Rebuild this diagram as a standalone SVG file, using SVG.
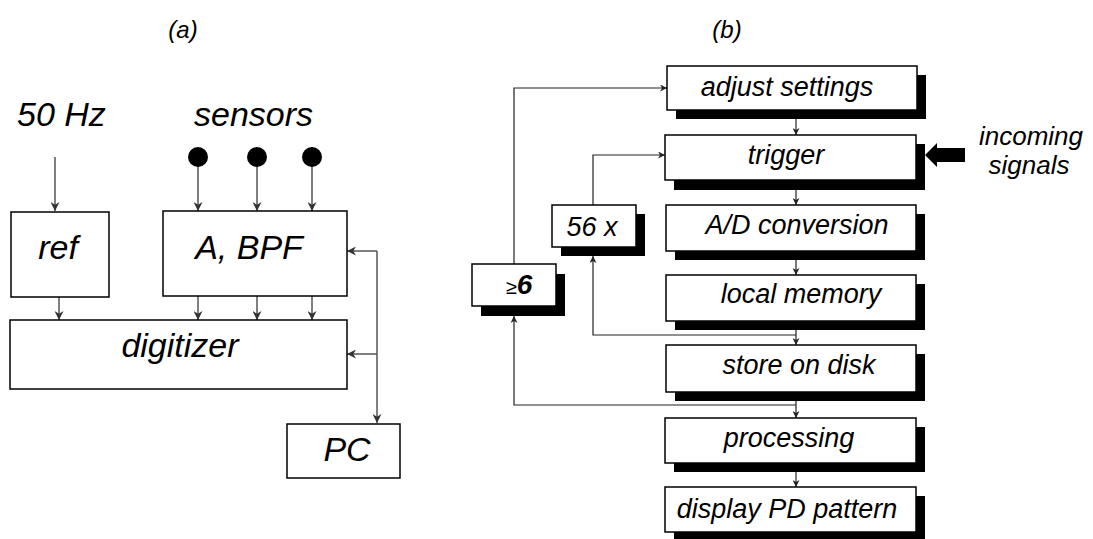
<svg xmlns="http://www.w3.org/2000/svg" width="1093" height="539" viewBox="0 0 1093 539">
<style>
text{font-family:"Liberation Sans",Arial,sans-serif;font-style:italic;fill:#000}
.ta{font-size:34px;text-anchor:middle}
.tb{font-size:27px;text-anchor:middle}
.box{fill:#fff;stroke:#000;stroke-width:1.5}
.sh{fill:#000}
.ca{fill:none;stroke:#555;stroke-width:1.5}
.cb{fill:none;stroke:#222;stroke-width:1.2}
</style>
<defs>
<marker id="arr" viewBox="0 0 10 10" refX="10" refY="5" markerWidth="7" markerHeight="7" markerUnits="userSpaceOnUse" orient="auto">
<path d="M0,0 L10,5 L0,10 L3,5 z" fill="#222"/>
</marker>
<marker id="arrA" viewBox="0 0 10 10" refX="10" refY="5" markerWidth="9" markerHeight="9" markerUnits="userSpaceOnUse" orient="auto">
<path d="M0,0 L10,5 L0,10 L3,5 z" fill="#333"/>
</marker>
</defs>

<text x="183" y="38" font-size="24" text-anchor="middle">(a)</text>
<text x="727" y="38" font-size="24" text-anchor="middle">(b)</text>

<g id="connectors-a">
<line class="ca" x1="55" y1="157" x2="55" y2="211" marker-end="url(#arrA)"/>
<line class="ca" x1="198" y1="157" x2="198" y2="211" marker-end="url(#arrA)"/>
<line class="ca" x1="257" y1="157" x2="257" y2="211" marker-end="url(#arrA)"/>
<line class="ca" x1="312" y1="157" x2="312" y2="211" marker-end="url(#arrA)"/>
<line class="ca" x1="59" y1="297" x2="59" y2="320" marker-end="url(#arrA)"/>
<line class="ca" x1="198" y1="296" x2="198" y2="320" marker-end="url(#arrA)"/>
<line class="ca" x1="257" y1="296" x2="257" y2="320" marker-end="url(#arrA)"/>
<line class="ca" x1="312" y1="296" x2="312" y2="320" marker-end="url(#arrA)"/>
<polyline class="ca" points="377,251 377,423" marker-end="url(#arrA)"/>
<line class="ca" x1="377" y1="251" x2="347" y2="251" marker-end="url(#arrA)"/>
<line class="ca" x1="377" y1="354" x2="347" y2="354" marker-end="url(#arrA)"/>
</g>

<g id="label-50hz"><text x="17" y="126" font-size="34">50 Hz</text></g>
<g id="label-sensors"><text x="194" y="126" font-size="34">sensors</text></g>
<g id="sensor1"><circle cx="198" cy="157" r="10" fill="#000"/></g>
<g id="sensor2"><circle cx="257" cy="157" r="10" fill="#000"/></g>
<g id="sensor3"><circle cx="312" cy="157" r="10" fill="#000"/></g>

<g id="ref"><rect class="box" x="11" y="212" width="98" height="85"/><text class="ta" x="58" y="259">ref</text></g>
<g id="abpf"><rect class="box" x="163" y="211" width="184" height="85"/><text class="ta" x="249" y="259">A, BPF</text></g>
<g id="digitizer"><rect class="box" x="10" y="320" width="337" height="69"/><text class="ta" x="180" y="357">digitizer</text></g>
<g id="pc"><rect class="box" x="287" y="424" width="113" height="54"/><text class="ta" x="347" y="461">PC</text></g>

<g id="connectors-b">
<line class="cb" x1="796" y1="119" x2="796" y2="135" marker-end="url(#arr)"/>
<line class="cb" x1="796" y1="190" x2="796" y2="205" marker-end="url(#arr)"/>
<line class="cb" x1="796" y1="260" x2="796" y2="275" marker-end="url(#arr)"/>
<line class="cb" x1="796" y1="330" x2="796" y2="345" marker-end="url(#arr)"/>
<line class="cb" x1="796" y1="401" x2="796" y2="418" marker-end="url(#arr)"/>
<line class="cb" x1="796" y1="472" x2="796" y2="487" marker-end="url(#arr)"/>
<polyline class="cb" points="514,264 514,88 667,88" marker-end="url(#arr)"/>
<polyline class="cb" points="593,205 593,155 665,155" marker-end="url(#arr)"/>
<polyline class="cb" points="796,335 593,335 593,256" marker-end="url(#arr)"/>
<polyline class="cb" points="796,405 514,405 514,316" marker-end="url(#arr)"/>
<polygon points="925,155 937,143 937,148 965,148 965,162 937,162 937,167" fill="#000"/>
</g>

<g id="adjust"><rect class="sh" x="676" y="75" width="250" height="44"/><rect class="box" x="667" y="66" width="250" height="44"/><text class="tb" x="787" y="96">adjust settings</text></g>
<g id="trigger"><rect class="sh" x="674" y="144" width="251" height="46"/><rect class="box" x="665" y="135" width="251" height="45"/><text class="tb" x="786" y="164">trigger</text></g>
<g id="ad"><rect class="sh" x="675" y="214" width="250" height="46"/><rect class="box" x="666" y="205" width="250" height="46"/><text class="tb" x="797" y="234">A/D conversion</text></g>
<g id="memory"><rect class="sh" x="675" y="284" width="250" height="46"/><rect class="box" x="666" y="275" width="250" height="46"/><text class="tb" x="801" y="303">local memory</text></g>
<g id="store"><rect class="sh" x="675" y="354" width="250" height="47"/><rect class="box" x="666" y="345" width="250" height="47"/><text class="tb" x="799" y="374">store on disk</text></g>
<g id="processing"><rect class="sh" x="674" y="427" width="251" height="45"/><rect class="box" x="665" y="418" width="251" height="45"/><text class="tb" x="789" y="447">processing</text></g>
<g id="display"><rect class="sh" x="674" y="496" width="251" height="46"/><rect class="box" x="665" y="487" width="251" height="45"/><text class="tb" x="787" y="518">display PD pattern</text></g>
<g id="x56"><rect class="sh" x="561" y="214" width="84" height="42"/><rect class="box" x="552" y="205" width="84" height="42"/><text class="tb" x="592" y="236">56 x</text></g>
<g id="ge6"><rect class="sh" x="481" y="274" width="84" height="42"/><rect class="box" x="472" y="264" width="84" height="42"/><text x="519" y="294" text-anchor="middle"><tspan font-size="20">≥</tspan><tspan font-size="28" font-weight="bold">6</tspan></text></g>
<g id="incoming"><text x="1031" y="145" font-size="26" text-anchor="middle">incoming</text><text x="1029" y="174" font-size="26" text-anchor="middle">signals</text></g>
</svg>
